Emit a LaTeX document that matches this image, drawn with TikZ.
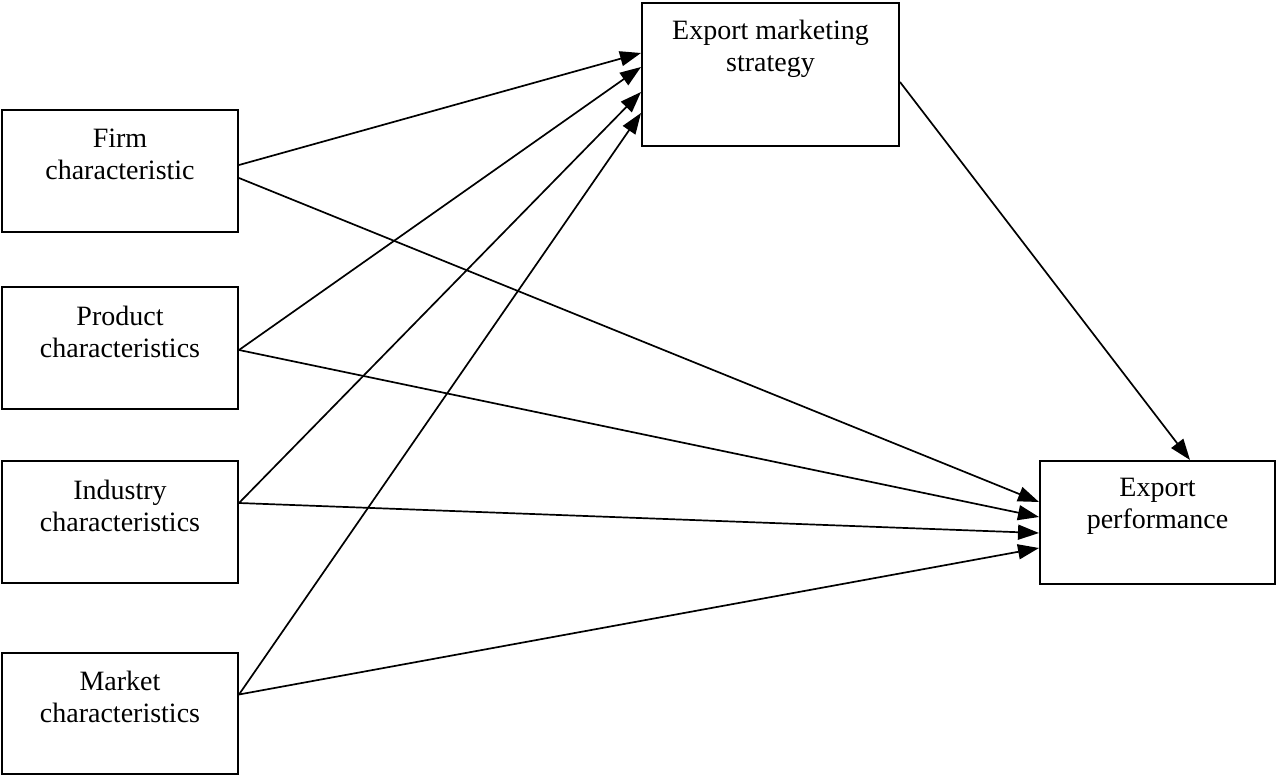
\documentclass[tikz,border=0pt]{standalone}
\usepackage{fontspec}
\setmainfont{Liberation Serif}
\usetikzlibrary{arrows.meta,calc}
\begin{document}
\begin{tikzpicture}[x=0.5pt,y=-0.5pt,
  box/.style={draw,line width=1pt,inner sep=0pt,minimum width=118pt,minimum height=61pt},
  lbl/.style={align=center,inner sep=0pt,font=\fontsize{14pt}{16pt}\selectfont},
  arr/.style={line width=0.85pt,-{Triangle[length=10.5pt,width=7.5pt]}}]
\useasboundingbox (0,0) rectangle (1276,776);
\node[box] (firm) at (120,170.5) {};
\node[box] (prod) at (120,348) {};
\node[box] (ind) at (120,522) {};
\node[box,minimum height=60.5pt] (mkt) at (120,713) {};
\node[box,minimum width=128.5pt,minimum height=71.5pt] (ems) at (770.5,74.5) {};
\node[box,minimum width=117.5pt,minimum height=61.5pt] (ep) at (1157.5,522.5) {};
\node[lbl] (firmt) at ([yshift=8pt]firm.center) {Firm\\characteristic};
\node[lbl] (prodt) at ([yshift=8pt]prod.center) {Product\\characteristics};
\node[lbl] (indt) at ([yshift=8pt]ind.center) {Industry\\characteristics};
\node[lbl] (mktt) at ([yshift=8pt]mkt.center) {Market\\characteristics};
\node[lbl] (emst) at ([yshift=13pt]ems.center) {Export marketing\\strategy};
\node[lbl] (ept) at ([yshift=8pt]ep.center) {Export\\performance};
\draw[arr] ([yshift=2.75pt]firm.east) -- ([yshift=10.75pt]ems.west);
\draw[arr] ([yshift=-1pt]prod.east) -- ([yshift=3.75pt]ems.west);
\draw[arr] ([yshift=9.5pt]ind.east) -- ([yshift=-8.75pt]ems.west);
\draw[arr] ([yshift=9.25pt]mkt.east) -- ([yshift=-19.25pt]ems.west);
\draw[arr] ([yshift=-3.75pt]firm.east) -- ([yshift=10.25pt]ep.west);
\draw[arr] ([yshift=-1pt]prod.east) -- ([yshift=2.75pt]ep.west);
\draw[arr] ([yshift=9.5pt]ind.east) -- ([yshift=-5.25pt]ep.west);
\draw[arr] ([yshift=9.25pt]mkt.east) -- ([yshift=-12.75pt]ep.west);
\draw[arr] ([yshift=-3.75pt]ems.east) -- ([xshift=16.25pt]ep.north);
\end{tikzpicture}
\end{document}
